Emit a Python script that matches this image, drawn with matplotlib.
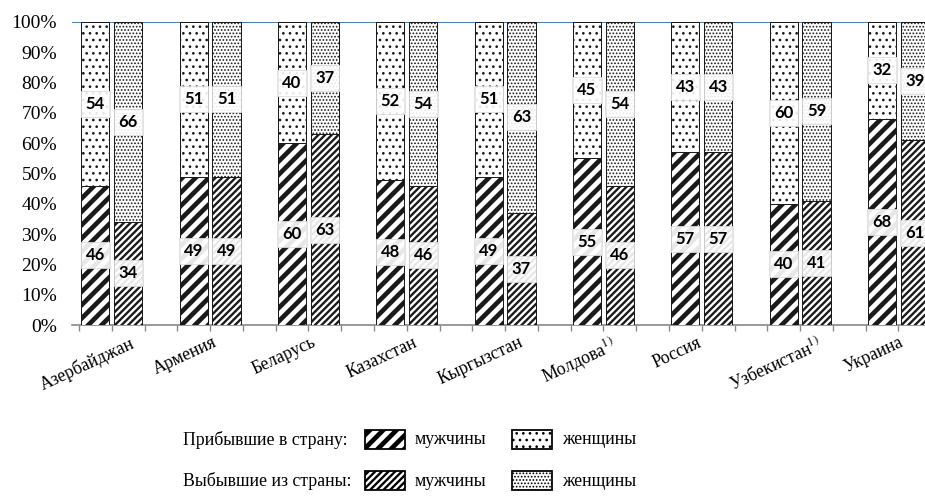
import matplotlib
matplotlib.use('Agg')
import numpy as np
import matplotlib.pyplot as plt
from matplotlib.patches import Rectangle

countries = ['Азербайджан', 'Армения', 'Беларусь', 'Казахстан', 'Кыргызстан',
             'Молдова$^{1)}$', 'Россия', 'Узбекистан$^{1)}$', 'Украина']
arr_men = [46, 49, 60, 48, 49, 55, 57, 40, 68]
arr_women = [54, 51, 40, 52, 51, 45, 43, 60, 32]
dep_men = [34, 49, 63, 46, 37, 46, 57, 41, 61]
dep_women = [66, 51, 37, 54, 63, 54, 43, 59, 39]
yticks = [0, 10, 20, 30, 40, 50, 60, 70, 80, 90, 100]

plt.rcParams['mathtext.fontset'] = 'stix'
plt.rcParams['hatch.color'] = 'black'

W, H, DPI = 925, 498, 80
fig = plt.figure(figsize=(W / DPI, H / DPI), dpi=DPI)
# plot area in pixels: x 72..964 (runs past the right edge), y 22..325
ax = fig.add_axes([72 / W, (H - 325) / H, (964 - 72) / W, 303 / H])

serif = 'Liberation Serif'
# hatch pattern and hatch line width for each series
styles = {
    'am': ('//', 4.2),
    'aw': ('..', 1.2),
    'dm': ('////', 2.1),
    'dw': ('....', 1.0),
}


def set_hatch_lw(artist, lw):
    if hasattr(artist, 'set_hatch_linewidth'):
        artist.set_hatch_linewidth(lw)
    orig = artist.draw

    def draw(renderer):
        with plt.rc_context({'hatch.linewidth': lw}):
            orig(renderer)
    artist.draw = draw


def hbar(x, h, bottom, key):
    hatch, lw = styles[key]
    with plt.rc_context({'hatch.linewidth': lw}):
        bars = ax.bar(x, h, bottom=bottom, width=0.86, color='white',
                      edgecolor='#1a1a1a', linewidth=0.9, hatch=hatch, zorder=3)
    for b in bars:
        set_hatch_lw(b, lw)
    return bars


x_arr = np.arange(len(countries)) * 3
x_dep = x_arr + 1
hbar(x_arr, arr_men, 0, 'am')
hbar(x_arr, arr_women, arr_men, 'aw')
hbar(x_dep, dep_men, 0, 'dm')
hbar(x_dep, dep_women, dep_men, 'dw')

box = dict(boxstyle='square,pad=0.3', facecolor='white', alpha=0.9,
           edgecolor='#dcdcdc', linewidth=0.8)
for i in range(len(countries)):
    for x, m, w in ((x_arr[i], arr_men[i], arr_women[i]),
                    (x_dep[i], dep_men[i], dep_women[i])):
        ax.text(x, m / 2, str(m), ha='center', va='center', fontsize=15,
                fontweight='bold', family='Lato', bbox=box, zorder=5)
        ax.text(x, m + w / 2, str(w), ha='center', va='center', fontsize=15,
                fontweight='bold', family='Lato', bbox=box, zorder=5)

ax.axhline(100, color='#4a7ebb', linewidth=1.8, zorder=2)

ax.set_xlim(-0.714, 26.5)
ax.set_ylim(0, 100)
ax.set_yticks(yticks)
ax.set_yticklabels([f'{v}%' for v in yticks], family=serif, fontsize=17.5)
ax.tick_params(axis='y', length=0, pad=13.5)
ax.set_xticks([])
ax.set_xticks(np.arange(-0.5, 27, 1), minor=True)
ax.tick_params(axis='x', which='minor', length=5, width=1.2, color='#888888')
for s in ['top', 'right', 'left']:
    ax.spines[s].set_visible(False)
ax.spines['bottom'].set_color('#888888')
ax.spines['bottom'].set_linewidth(1.5)

for i, name in enumerate(countries):
    ax.text(x_arr[i] + 0.5 - 0.75, -3, name, rotation=25, ha='center', va='top',
            family=serif, fontsize=16, clip_on=False)

# legend drawn in figure pixels
def fx(px):
    return px / W


def fy(py):
    return (H - py) / H


rows = [('Прибывшие в страну:', 440, 'am', 'aw'),
        ('Выбывшие из страны:', 481, 'dm', 'dw')]
for label, yc, km, kw in rows:
    fig.text(fx(183), fy(yc), label, family=serif, fontsize=16, va='center')
    for x0, key, txt in ((365, km, 'мужчины'), (512, kw, 'женщины')):
        hatch, lw = styles[key]
        with plt.rc_context({'hatch.linewidth': lw}):
            r = Rectangle((fx(x0), fy(yc + 9)), fx(40), 19 / H, facecolor='white',
                          edgecolor='black', linewidth=1.6, hatch=hatch,
                          transform=fig.transFigure)
        set_hatch_lw(r, lw)
        fig.add_artist(r)
        fig.text(fx(x0 + 50), fy(yc), txt, family=serif, fontsize=16, va='center')

fig.savefig('out.png', dpi=DPI)
